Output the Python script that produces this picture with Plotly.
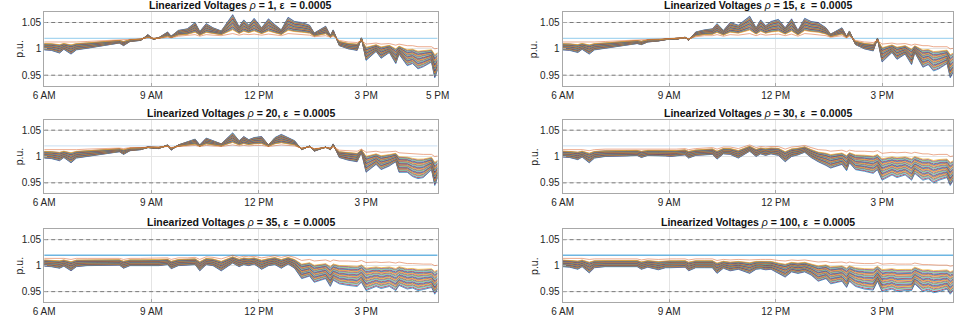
import plotly.graph_objects as go

# ---------------- data ----------------
hours = [6.0, 6.2, 6.43, 6.55, 6.75, 6.9, 7.2, 7.5, 7.8, 8.1,
         8.22, 8.4, 8.7, 8.9, 9.05, 9.2, 9.45, 9.55, 9.75, 10.0,
         10.22, 10.35, 10.53, 10.72, 10.95, 11.27, 11.45, 11.58, 11.72, 11.87,
         12.08, 12.27, 12.45, 12.63, 12.82, 13.0, 13.2, 13.42, 13.55, 13.87,
         14.0, 14.08, 14.25, 14.5, 14.75, 14.87, 15.0, 15.28, 15.42, 15.65,
         15.83, 15.92, 16.15, 16.3, 16.45, 16.6, 16.83, 16.92, 17.0]

x_tick_vals = [6, 9, 12, 15, 17]
x_tick_text = ["6 AM", "9 AM", "12 PM", "3 PM", "5 PM"]
y_tick_vals = [0.95, 1.0, 1.05]
y_tick_text = ["0.95", "1", "1.05"]
voltage_limits = [0.95, 1.05]
setpoint = 1.02
rho_values = [1, 15, 20, 30, 35, 100]
epsilon_text = "0.0005"

# voltage at the bus nearest the substation (thin orange line)
near_rho1 = [1.013, 1.013, 1.012, 1.013, 1.012, 1.013, 1.014, 1.015, 1.016, 1.017,
             1.016, 1.018, 1.019, 1.021, 1.020, 1.020, 1.022, 1.021, 1.024, 1.025,
             1.027, 1.024, 1.027, 1.026, 1.025, 1.029, 1.026, 1.028, 1.027, 1.028,
             1.026, 1.028, 1.027, 1.025, 1.029, 1.028, 1.027, 1.026, 1.023, 1.025,
             1.022, 1.024, 1.016, 1.013, 1.012, 1.016, 1.009, 1.011, 1.009, 1.010,
             1.007, 1.009, 1.006, 1.006, 1.004, 1.004, 1.004, 1.000, 1.001]
far_rho1 = [0.998, 0.997, 0.992, 0.999, 0.990, 0.998, 1.001, 1.004, 1.007, 1.011,
            1.006, 1.014, 1.016, 1.027, 1.018, 1.021, 1.032, 1.024, 1.035, 1.038,
            1.050, 1.033, 1.048, 1.040, 1.034, 1.065, 1.042, 1.055, 1.045, 1.058,
            1.040, 1.057, 1.046, 1.036, 1.060, 1.052, 1.050, 1.045, 1.030, 1.043,
            1.025, 1.036, 1.006, 1.000, 0.997, 1.021, 0.978, 0.995, 0.982, 0.993,
            0.972, 0.990, 0.968, 0.972, 0.962, 0.966, 0.975, 0.945, 0.960]

near_rho15 = [1.013, 1.013, 1.012, 1.013, 1.012, 1.013, 1.014, 1.015, 1.016, 1.017,
              1.016, 1.018, 1.018, 1.019, 1.020, 1.020, 1.021, 1.019, 1.023, 1.025,
              1.025, 1.027, 1.024, 1.027, 1.026, 1.029, 1.025, 1.028, 1.026, 1.027,
              1.028, 1.025, 1.028, 1.024, 1.029, 1.028, 1.027, 1.025, 1.022, 1.025,
              1.021, 1.024, 1.016, 1.013, 1.012, 1.016, 1.009, 1.011, 1.009, 1.010,
              1.007, 1.009, 1.006, 1.006, 1.004, 1.004, 1.004, 1.000, 1.001]
far_rho15 = [0.998, 0.997, 0.993, 0.999, 0.990, 0.998, 1.001, 1.004, 1.007, 1.010,
             1.008, 1.013, 1.015, 1.017, 1.019, 1.018, 1.022, 1.016, 1.032, 1.036,
             1.038, 1.048, 1.035, 1.050, 1.045, 1.062, 1.040, 1.055, 1.044, 1.052,
             1.056, 1.040, 1.057, 1.035, 1.058, 1.052, 1.050, 1.040, 1.028, 1.040,
             1.024, 1.034, 1.008, 1.000, 0.996, 1.020, 0.975, 0.993, 0.980, 0.990,
             0.970, 0.993, 0.965, 0.970, 0.958, 0.962, 0.972, 0.945, 0.955]

near_rho20 = [1.013, 1.013, 1.012, 1.013, 1.012, 1.013, 1.014, 1.015, 1.015, 1.016,
              1.015, 1.017, 1.017, 1.018, 1.018, 1.018, 1.019, 1.017, 1.019, 1.020,
              1.021, 1.019, 1.021, 1.020, 1.019, 1.022, 1.020, 1.021, 1.020, 1.021,
              1.021, 1.019, 1.021, 1.022, 1.021, 1.020, 1.016, 1.018, 1.015, 1.017,
              1.016, 1.018, 1.012, 1.011, 1.010, 1.014, 1.008, 1.010, 1.008, 1.009,
              1.010, 1.007, 1.006, 1.005, 1.004, 1.004, 1.004, 1.000, 1.001]
far_rho20 = [0.997, 0.996, 0.992, 0.998, 0.988, 0.997, 1.000, 1.003, 1.006, 1.009,
             1.004, 1.011, 1.013, 1.017, 1.016, 1.015, 1.022, 1.012, 1.022, 1.028,
             1.033, 1.022, 1.035, 1.030, 1.024, 1.045, 1.030, 1.038, 1.032, 1.036,
             1.038, 1.022, 1.036, 1.042, 1.036, 1.030, 1.013, 1.020, 1.010, 1.018,
             1.013, 1.024, 0.998, 0.993, 0.990, 1.008, 0.970, 0.985, 0.975, 0.982,
             0.990, 0.970, 0.970, 0.962, 0.958, 0.960, 0.975, 0.945, 0.960]

near_rho30 = [1.013, 1.013, 1.012, 1.013, 1.011, 1.013, 1.014, 1.014, 1.014, 1.014,
              1.013, 1.014, 1.014, 1.014, 1.014, 1.014, 1.015, 1.013, 1.015, 1.016,
              1.017, 1.014, 1.018, 1.018, 1.015, 1.022, 1.017, 1.019, 1.018, 1.019,
              1.019, 1.014, 1.018, 1.019, 1.021, 1.017, 1.013, 1.012, 1.010, 1.012,
              1.009, 1.012, 1.010, 1.010, 1.009, 1.011, 1.006, 1.008, 1.007, 1.008,
              1.006, 1.008, 1.005, 1.005, 1.003, 1.004, 1.004, 1.000, 1.001]
far_rho30 = [0.999, 0.998, 0.994, 0.999, 0.988, 0.997, 1.000, 1.000, 1.001, 1.002,
             0.998, 1.002, 1.002, 1.001, 1.000, 1.001, 1.003, 0.997, 1.002, 1.003,
             1.004, 0.995, 1.005, 1.004, 0.997, 1.010, 1.000, 1.005, 1.002, 1.005,
             1.002, 0.990, 1.000, 1.003, 1.008, 0.998, 0.990, 0.983, 0.978, 0.985,
             0.973, 0.988, 0.975, 0.972, 0.968, 0.975, 0.955, 0.965, 0.960, 0.965,
             0.955, 0.968, 0.955, 0.958, 0.950, 0.955, 0.960, 0.945, 0.955]

near_rho35 = [1.014, 1.014, 1.013, 1.014, 1.012, 1.014, 1.014, 1.014, 1.014, 1.014,
              1.012, 1.014, 1.014, 1.014, 1.014, 1.014, 1.015, 1.012, 1.015, 1.015,
              1.016, 1.012, 1.017, 1.016, 1.013, 1.020, 1.016, 1.018, 1.017, 1.018,
              1.015, 1.017, 1.019, 1.016, 1.019, 1.016, 1.010, 1.012, 1.009, 1.011,
              1.008, 1.011, 1.009, 1.009, 1.008, 1.010, 1.006, 1.007, 1.006, 1.007,
              1.005, 1.007, 1.004, 1.004, 1.003, 1.003, 1.003, 1.000, 1.001]
far_rho35 = [0.999, 0.998, 0.995, 0.999, 0.990, 0.998, 1.000, 1.000, 1.000, 1.001,
             0.995, 1.000, 1.000, 1.000, 0.999, 1.000, 1.002, 0.994, 1.000, 1.001,
             1.002, 0.990, 1.002, 1.000, 0.990, 1.005, 0.998, 1.002, 1.000, 1.003,
             0.993, 1.000, 1.002, 0.995, 1.003, 0.995, 0.975, 0.980, 0.968, 0.975,
             0.960, 0.972, 0.965, 0.962, 0.960, 0.968, 0.952, 0.960, 0.956, 0.960,
             0.952, 0.962, 0.955, 0.957, 0.952, 0.954, 0.958, 0.945, 0.955]

near_rho100 = [1.014, 1.014, 1.013, 1.014, 1.012, 1.013, 1.013, 1.013, 1.013, 1.013,
               1.011, 1.013, 1.012, 1.013, 1.013, 1.013, 1.013, 1.011, 1.013, 1.013,
               1.013, 1.010, 1.012, 1.011, 1.012, 1.011, 1.012, 1.012, 1.012, 1.012,
               1.010, 1.009, 1.011, 1.010, 1.011, 1.009, 1.007, 1.008, 1.006, 1.007,
               1.005, 1.007, 1.005, 1.004, 1.004, 1.006, 1.003, 1.004, 1.003, 1.003,
               1.003, 1.005, 1.002, 1.002, 1.001, 1.001, 1.001, 0.999, 1.000]
far_rho100 = [0.998, 0.997, 0.993, 0.998, 0.986, 0.996, 0.998, 0.998, 0.998, 0.998,
              0.993, 0.997, 0.992, 0.996, 0.996, 0.996, 0.997, 0.990, 0.996, 0.996,
              0.996, 0.985, 0.995, 0.990, 0.993, 0.985, 0.993, 0.994, 0.992, 0.993,
              0.985, 0.978, 0.988, 0.985, 0.988, 0.982, 0.970, 0.975, 0.965, 0.970,
              0.958, 0.970, 0.960, 0.955, 0.953, 0.970, 0.950, 0.955, 0.950, 0.952,
              0.952, 0.965, 0.950, 0.953, 0.948, 0.950, 0.955, 0.945, 0.952]

# electrical position of each bus between the nearest (0) and farthest (1) bus
bus_weights = [0.0, 0.20, 0.23, 0.26, 0.29, 0.32, 0.35, 0.38, 0.41, 0.44,
               0.47, 0.50, 0.53, 0.56, 0.59, 0.62, 0.65, 0.68, 0.71, 0.74,
               0.77, 0.80, 0.83, 0.86, 0.89, 0.92, 0.96, 1.0]

near_series = [near_rho1, near_rho15, near_rho20, near_rho30, near_rho35, near_rho100]
far_series = [far_rho1, far_rho15, far_rho20, far_rho30, far_rho35, far_rho100]

# ---------------- styling ----------------
matlab_colors = ["#0072BD", "#D95319", "#EDB120", "#7E2F8E",
                 "#77AC30", "#4DBEEE", "#A2142F"]
setpoint_colors = ["#a9d6f0", "#a9d6f0", "#d3e6f5", "#d3e6f5", "#6db6e2", "#6db6e2"]
W, H = 969, 317
col_px = [(34, 437), (565, 965)]
row_px = [(12, 86), (120, 194), (230, 303)]
font_family = "Liberation Sans, Arial, sans-serif"

fig = go.Figure()
layout = dict(
    width=W, height=H, margin=dict(l=0, r=0, t=0, b=0),
    paper_bgcolor="white", plot_bgcolor="white", showlegend=False,
    font=dict(family=font_family, size=10, color="#262626"),
)
annotations = []

for p in range(6):
    r, c = divmod(p, 2)
    ax = "" if p == 0 else str(p + 1)
    xref, yref = "x" + ax, "y" + ax
    x0, x1 = col_px[c]
    y0, y1 = row_px[r]
    ticks_x = x_tick_vals if p == 0 else x_tick_vals[:4]
    text_x = x_tick_text if p == 0 else x_tick_text[:4]
    layout["xaxis" + ax] = dict(
        domain=[x0 / W, x1 / W], anchor=yref, range=[6, 17],
        tickvals=ticks_x, ticktext=text_x, showgrid=True, gridcolor="#e4e4e4",
        gridwidth=1, zeroline=False, showline=True, linecolor="#a8a8a8",
        linewidth=1, mirror=True, ticks="inside", ticklen=3, tickcolor="#a8a8a8",
        tickfont=dict(size=10, color="#262626"),
    )
    layout["yaxis" + ax] = dict(
        domain=[1 - y1 / H, 1 - y0 / H], anchor=xref, range=[0.93, 1.07],
        tickvals=y_tick_vals, ticktext=y_tick_text, showgrid=True,
        gridcolor="#e4e4e4", gridwidth=1, zeroline=False, showline=True,
        linecolor="#a8a8a8", linewidth=1, mirror=True, ticks="inside",
        ticklen=3, tickcolor="#a8a8a8", tickfont=dict(size=10, color="#262626"),
    )

    # setpoint line and voltage limits
    fig.add_trace(go.Scatter(x=[6, 17], y=[setpoint, setpoint], mode="lines",
                             line=dict(color=setpoint_colors[p], width=1.3),
                             xaxis=xref, yaxis=yref, hoverinfo="skip"))
    for lim in voltage_limits:
        fig.add_trace(go.Scatter(x=[6, 17], y=[lim, lim], mode="lines",
                                 line=dict(color="#7a7a7a", width=1, dash="4px,3px"),
                                 xaxis=xref, yaxis=yref, hoverinfo="skip"))

    near, far = near_series[p], far_series[p]
    # farthest bus first so the intermediate buses stay visible
    for k in reversed(range(len(bus_weights))):
        w = bus_weights[k]
        v = [n + w * (f - n) for n, f in zip(near, far)]
        fig.add_trace(go.Scatter(
            x=hours, y=v, mode="lines",
            line=dict(color=matlab_colors[(k + 1) % 7], width=0.7),
            opacity=0.7 if k == 0 else 1.0,
            xaxis=xref, yaxis=yref, hoverinfo="skip"))

    annotations.append(dict(
        x=(x0 + x1) / 2 / W, y=1 - (y0 - 7) / H, xref="paper", yref="paper",
        xanchor="center", yanchor="middle", showarrow=False,
        text=f"<b>Linearized Voltages </b><i>ρ</i><b> = {rho_values[p]}, ε  = {epsilon_text}</b>",
        font=dict(size=10.5, color="#111111", family=font_family),
    ))
    annotations.append(dict(
        x=(8 if c == 0 else 535) / W, y=1 - (y0 + y1) / 2 / H, xref="paper",
        yref="paper", xanchor="center", yanchor="middle", showarrow=False,
        textangle=-90, text="p.u.", font=dict(size=10.5, color="#262626",
                                              family=font_family),
    ))

layout["annotations"] = annotations
fig.update_layout(**layout)
fig.write_html(
    "out.html",
    config={"displayModeBar": False},
    post_script="document.body.style.margin='0px';document.body.style.overflow='hidden';",
)
